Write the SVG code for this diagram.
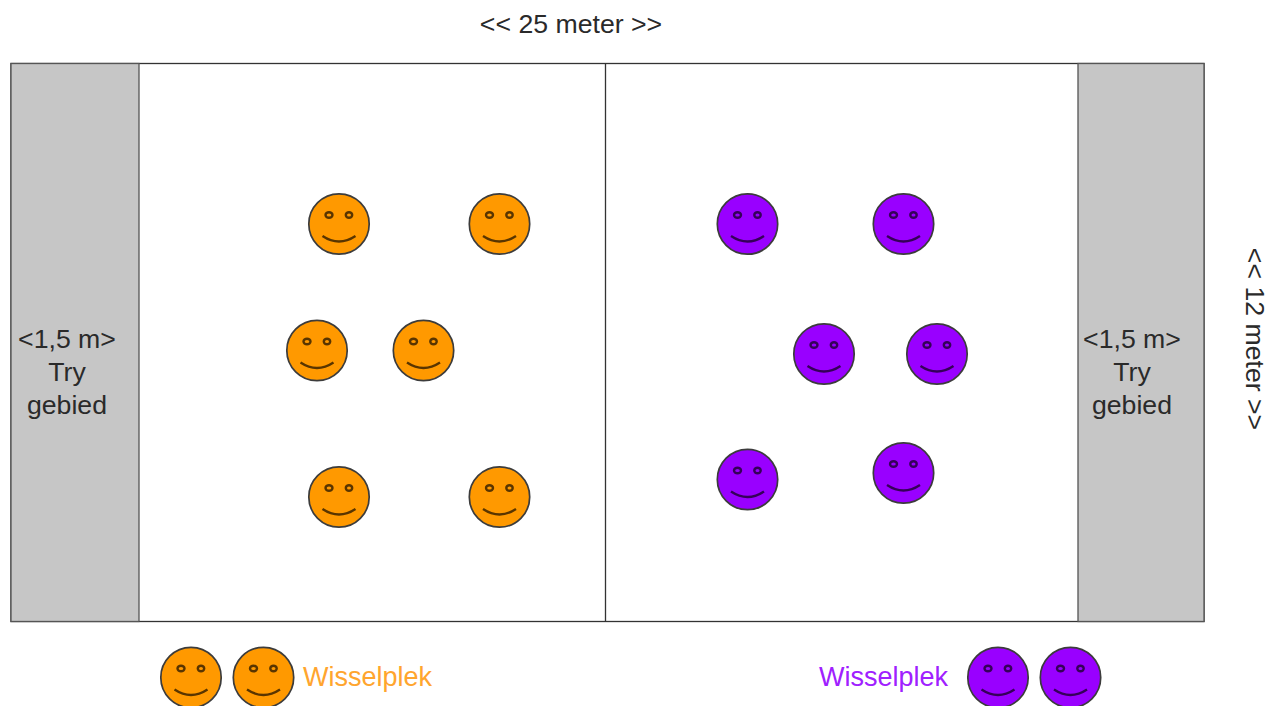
<svg xmlns="http://www.w3.org/2000/svg" xmlns:xlink="http://www.w3.org/1999/xlink" width="1270" height="706" viewBox="0 0 1270 706">
<style>
text{font-family:"Liberation Sans",Arial,sans-serif;font-size:26.67px;fill:#2a2a2a;text-anchor:middle}
.zone{fill:#c6c6c6;stroke:#555;stroke-width:1.3}
.line{fill:none;stroke:#333;stroke-width:1.3}
.o{fill:#ff9900}.p{fill:#9900ff}
.face{stroke:#3c3c3c;stroke-width:1.7}
.feat{fill:none;stroke:#000;stroke-opacity:.65;stroke-width:2.400}
.wo{fill:#ffa52e;text-anchor:start;font-size:27px}.wp{fill:#a020ff;text-anchor:start;font-size:27px}
</style>
<defs>
<g id="f">
<circle class="face" r="30.200"/>
<ellipse class="feat" cx="-10" cy="-9" rx="3.500" ry="2.800"/>
<ellipse class="feat" cx="10" cy="-9" rx="3.200" ry="2.800"/>
<path class="feat" d="M-16.500 12Q0 23 16.500 12"/>
</g>
</defs>
<rect width="1270" height="706" fill="#fff"/>
<g id="field">
<rect x="11" y="63.500" width="1193" height="558" fill="#fff" stroke="#333" stroke-width="1.3"/>
</g>
<g id="try-left"><rect class="zone" x="11" y="63.500" width="128" height="558"/>
<text x="67" y="348">&lt;1,5 m&gt;</text><text x="67" y="381">Try</text><text x="67" y="414">gebied</text></g>
<g id="try-right"><rect class="zone" x="1078" y="63.500" width="126" height="558"/>
<text x="1132" y="348">&lt;1,5 m&gt;</text><text x="1132" y="381">Try</text><text x="1132" y="414">gebied</text></g>
<g id="connectors"><path class="line" d="M605.500 63.500V621.500"/></g>
<g id="length-label"><text x="571" y="33">&lt;&lt; 25 meter &gt;&gt;</text></g>
<g id="width-label"><text transform="translate(1245.500 339) rotate(90)">&lt;&lt; 12 meter &gt;&gt;</text></g>
<g id="orange-1"><use class="o" href="#f" x="339" y="224"/></g>
<g id="orange-2"><use class="o" href="#f" x="499.500" y="224"/></g>
<g id="orange-3"><use class="o" href="#f" x="317" y="350.500"/></g>
<g id="orange-4"><use class="o" href="#f" x="423.500" y="350.500"/></g>
<g id="orange-5"><use class="o" href="#f" x="339" y="497"/></g>
<g id="orange-6"><use class="o" href="#f" x="499.500" y="497"/></g>
<g id="purple-1"><use class="p" href="#f" x="747.500" y="224"/></g>
<g id="purple-2"><use class="p" href="#f" x="903.500" y="224"/></g>
<g id="purple-3"><use class="p" href="#f" x="824" y="354"/></g>
<g id="purple-4"><use class="p" href="#f" x="937" y="354"/></g>
<g id="purple-5"><use class="p" href="#f" x="747.500" y="479.500"/></g>
<g id="purple-6"><use class="p" href="#f" x="903.500" y="473"/></g>
<g id="bench-orange"><use class="o" href="#f" x="191" y="677.500"/><use class="o" href="#f" x="263.500" y="677.500"/>
<text class="wo" x="303" y="686">Wisselplek</text></g>
<g id="bench-purple"><use class="p" href="#f" x="998" y="677.500"/><use class="p" href="#f" x="1070.500" y="677.500"/>
<text class="wp" x="819" y="686">Wisselplek</text></g>
</svg>
